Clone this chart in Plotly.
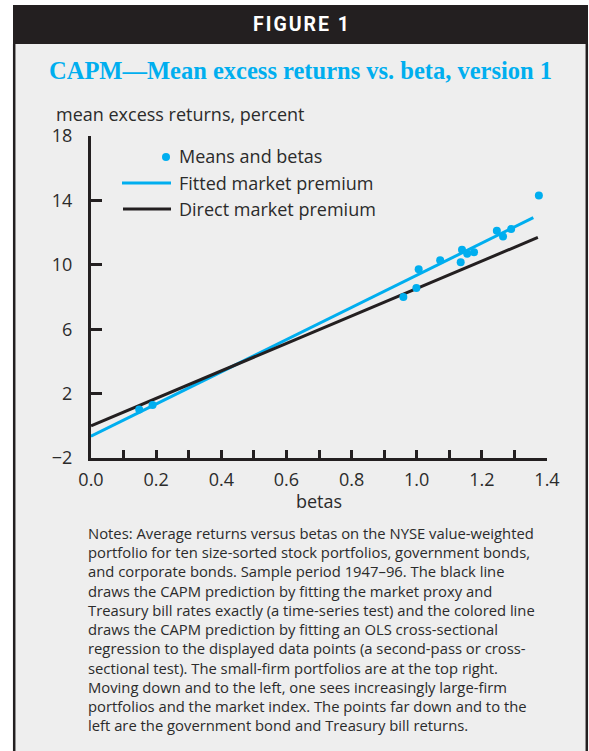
import plotly.graph_objects as go

# ---- data -------------------------------------------------------------
# mean excess returns (percent) against betas on the NYSE value-weighted index
betas = [0.148, 0.189, 0.959, 0.999, 1.006, 1.072, 1.135, 1.139, 1.155, 1.176,
         1.246, 1.265, 1.290, 1.375]
means = [1.02, 1.29, 8.00, 8.56, 9.72, 10.28, 10.16, 10.94, 10.69, 10.78,
         12.12, 11.75, 12.22, 14.30]

# OLS cross-sectional fit (coloured line)
fitted_betas = [0.0, 1.358]
fitted_values = [-0.65, 12.93]

# time-series prediction: zero intercept, slope = market premium (black line)
direct_betas = [0.0, 1.372]
direct_values = [0.0, 11.70]

x_tick_values = [0.0, 0.1, 0.2, 0.3, 0.4, 0.5, 0.6, 0.7, 0.8, 0.9, 1.0, 1.1, 1.2, 1.3, 1.4]
x_tick_labels = ["0.0", "", "0.2", "", "0.4", "", "0.6", "", "0.8", "", "1.0", "", "1.2", "", "1.4"]
y_tick_values = [-2, 2, 6, 10, 14, 18]

legend_labels = ["Means and betas", "Fitted market premium", "Direct market premium"]

notes_lines = [
    "Notes: Average returns versus betas on the NYSE value-weighted",
    "portfolio for ten size-sorted stock portfolios, government bonds,",
    "and corporate bonds. Sample period 1947–96. The black line",
    "draws the CAPM prediction by fitting the market proxy and",
    "Treasury bill rates exactly (a time-series test) and the colored line",
    "draws the CAPM prediction by fitting an OLS cross-sectional",
    "regression to the displayed data points (a second-pass or cross-",
    "sectional test). The small-firm portfolios are at the top right.",
    "Moving down and to the left, one sees increasingly large-firm",
    "portfolios and the market index. The points far down and to the",
    "left are the government bond and Treasury bill returns.",
]

# ---- styling ----------------------------------------------------------
W, H = 589, 751
BLUE = "#00AEEF"
INK = "#231F20"
TEXT = "#2B2B2B"
PANEL = "#EEEEEE"
SANS = "Open Sans, Noto Sans, sans-serif"
LABEL_SIZE = 18


def px(x):
    return x / W


def py(y):
    return 1 - y / H


fig = go.Figure()
fig.add_trace(go.Scatter(x=fitted_betas, y=fitted_values, mode="lines",
                         name=legend_labels[1], line=dict(color=BLUE, width=3),
                         showlegend=False))
fig.add_trace(go.Scatter(x=direct_betas, y=direct_values, mode="lines",
                         name=legend_labels[2], line=dict(color=INK, width=3),
                         showlegend=False))
fig.add_trace(go.Scatter(x=betas, y=means, mode="markers",
                         name=legend_labels[0], marker=dict(color=BLUE, size=8),
                         showlegend=False))

shapes = [
    # light panel
    dict(type="rect", xref="paper", yref="paper", layer="below",
         x0=px(14), x1=px(587), y0=0, y1=py(44),
         fillcolor=PANEL, line=dict(width=0)),
    # panel side borders
    dict(type="line", xref="paper", yref="paper", layer="below",
         x0=px(14.2), x1=px(14.2), y0=0, y1=py(44),
         line=dict(color=INK, width=2.5)),
    dict(type="line", xref="paper", yref="paper", layer="below",
         x0=px(586.8), x1=px(586.8), y0=0, y1=py(44),
         line=dict(color=INK, width=2.5)),
    # header bar
    dict(type="rect", xref="paper", yref="paper", layer="below",
         x0=px(13), x1=px(588), y0=py(44), y1=py(5),
         fillcolor=INK, line=dict(width=0)),
    # legend keys
    dict(type="line", xref="paper", yref="paper",
         x0=px(122), x1=px(171), y0=py(183), y1=py(183),
         line=dict(color=BLUE, width=3)),
    dict(type="line", xref="paper", yref="paper",
         x0=px(123), x1=px(171), y0=py(209), y1=py(209),
         line=dict(color=INK, width=3)),
    dict(type="circle", xref="paper", yref="paper",
         x0=px(162), x1=px(170), y0=py(161), y1=py(153),
         fillcolor=BLUE, line=dict(width=0)),
]

annotations = [
    dict(text="<b>F\u200aI\u200aG\u200aU\u200aR\u200aE\u2009 1</b>", x=px(301), y=py(25),
         xref="paper", yref="paper",
         showarrow=False, xanchor="center", yanchor="middle",
         font=dict(family="Roboto, sans-serif", size=19.5, color="white")),
    dict(text="<b>CAPM—Mean excess returns vs. beta, version 1</b>",
         x=px(300), y=py(70), xref="paper", yref="paper",
         showarrow=False, xanchor="center", yanchor="middle",
         font=dict(family="Liberation Serif, Times New Roman, serif", size=24.5, color=BLUE)),
    dict(text="mean excess returns, percent", x=px(55), y=py(114),
         xref="paper", yref="paper", showarrow=False, borderpad=0,
         xanchor="left", yanchor="middle",
         font=dict(family=SANS, size=LABEL_SIZE, color=TEXT)),
    dict(text="betas", x=px(319), y=py(501), xref="paper", yref="paper",
         showarrow=False, xanchor="center", yanchor="middle",
         font=dict(family=SANS, size=LABEL_SIZE, color=TEXT)),
]

for label, yc in zip(legend_labels, [156, 183, 209]):
    annotations.append(dict(text=label, x=px(177), y=py(yc), xref="paper", yref="paper",
                            showarrow=False, xanchor="left", yanchor="middle",
                            font=dict(family=SANS, size=LABEL_SIZE, color=TEXT)))

# notes block below the chart
annotations.append(dict(text="<br>".join(notes_lines), x=px(87), y=py(628.5),
                        xref="paper", yref="paper", showarrow=False,
                        xanchor="left", yanchor="middle", align="left", borderpad=0,
                        font=dict(family=SANS, size=14.8, color=TEXT)))

axis_common = dict(showline=True, linewidth=3, linecolor=INK, ticks="inside",
                   tickwidth=2.5, tickcolor=INK, showgrid=False, zeroline=False,
                   automargin=False,
                   tickfont=dict(family=SANS, size=LABEL_SIZE, color=TEXT), fixedrange=True)

fig.update_layout(
    width=W, height=H,
    margin=dict(l=0, r=0, t=0, b=0, pad=0, autoexpand=False),
    paper_bgcolor="white",
    plot_bgcolor="rgba(0,0,0,0)",
    showlegend=False,
    xaxis=dict(domain=[px(91), px(547)], range=[0, 1.4],
               tickvals=x_tick_values, ticktext=x_tick_labels,
               ticklen=8, ticklabelstandoff=3, **axis_common),
    yaxis=dict(domain=[py(458), py(136)], range=[-2, 18],
               tickvals=y_tick_values, ticklen=11, ticklabelstandoff=12,
               **axis_common),
    shapes=shapes,
    annotations=annotations,
)

fig.write_html("out.html", config={"displayModeBar": False})
